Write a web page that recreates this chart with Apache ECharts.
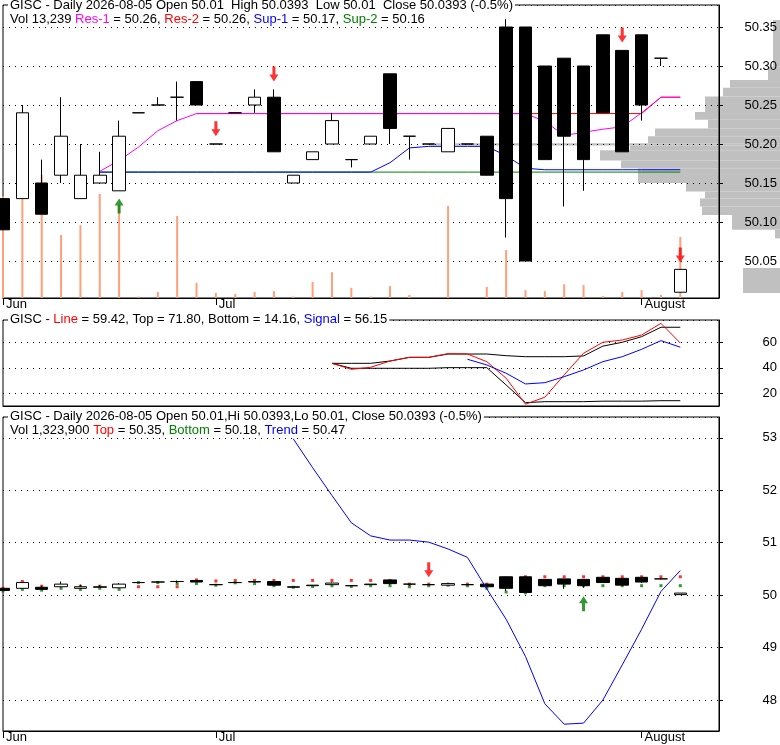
<!DOCTYPE html>
<html>
<head>
<meta charset="utf-8">
<title>GISC - Daily</title>
<script src="https://cdn.jsdelivr.net/npm/echarts@6/dist/echarts.min.js"></script>
<style>
    html, body { margin: 0; padding: 0; background: #fff; }
    #chart { width: 780px; height: 745px; }
</style>
</head>
<body>
<div id="chart"></div>
<script type="text/javascript">
    // daily bars
    var dates = ['2026-06-15','2026-06-16','2026-06-17','2026-06-18','2026-06-22','2026-06-23','2026-06-24','2026-06-25','2026-06-26',
        '2026-06-29','2026-06-30','2026-07-01','2026-07-02','2026-07-06','2026-07-07','2026-07-08','2026-07-09','2026-07-10',
        '2026-07-13','2026-07-14','2026-07-15','2026-07-16','2026-07-17','2026-07-20','2026-07-21','2026-07-22','2026-07-23',
        '2026-07-24','2026-07-27','2026-07-28','2026-07-29','2026-07-30','2026-07-31','2026-08-03','2026-08-04','2026-08-05'];
    var opens  = [50.13,50.13,50.15,50.16,50.13,50.15,50.14,50.24,50.25,50.26,50.28,50.20,50.24,50.25,50.26,50.15,50.18,50.20,
        50.18,50.20,50.29,50.21,50.20,50.19,50.20,50.21,50.35,50.35,50.30,50.31,50.30,50.34,50.32,50.34,50.31,50.01];
    var closes = [50.09,50.24,50.11,50.21,50.16,50.16,50.21,50.24,50.25,50.26,50.25,50.20,50.24,50.26,50.19,50.16,50.19,50.23,
        50.18,50.21,50.22,50.21,50.20,50.22,50.20,50.16,50.13,50.05,50.18,50.21,50.18,50.24,50.19,50.25,50.31,50.0393];
    var lows   = [50.09,50.13,50.11,50.15,50.13,50.15,50.14,50.24,50.25,50.23,50.25,50.20,50.24,50.24,50.19,50.15,50.18,50.20,
        50.17,50.20,50.20,50.18,50.20,50.19,50.20,50.16,50.08,50.05,50.18,50.12,50.14,50.24,50.19,50.23,50.30,50.01];
    var highs  = [50.13,50.25,50.18,50.26,50.20,50.19,50.23,50.24,50.26,50.28,50.28,50.20,50.24,50.27,50.27,50.16,50.19,50.24,
        50.18,50.21,50.29,50.21,50.20,50.22,50.20,50.21,50.36,50.35,50.30,50.31,50.30,50.34,50.32,50.34,50.31,50.0393];
    var volumes = [22100,21700,26700,13700,15800,22600,20200,330,1300,17800,3300,1100,870,1300,1500,330,3500,5600,
        2200,330,2600,650,0,20000,0,2400,10400,1700,1500,3000,2800,430,1300,1700,650,13239];

    // support / resistance
    var res1 = [null,null,null,null,null,50.165,50.179,50.196,50.217,50.23,50.239,50.239,50.239,50.239,50.239,50.239,50.239,50.239,
        50.239,50.239,50.239,50.239,50.239,50.239,50.239,50.239,50.239,50.239,50.229,50.211,50.215,50.219,50.222,50.24,50.26,50.26];
    var res2 = [null,null,null,null,null,null,null,null,null,null,50.239,50.239,50.239,50.239,50.239,50.239,50.239,50.239,
        50.239,50.239,50.239,50.239,50.239,50.239,50.239,50.239,50.239,50.239,50.239,50.239,50.239,50.239,50.239,50.239,50.26,50.26];
    var sup1 = [null,null,null,null,null,50.164,50.164,50.164,50.164,50.164,50.164,50.164,50.164,50.164,50.164,50.164,50.164,50.164,
        50.164,50.164,50.176,50.195,50.197,50.197,50.197,50.197,50.185,50.169,50.167,50.167,50.167,50.167,50.167,50.167,50.167,50.167];
    var sup2 = [null,null,null,null,null,50.164,50.164,50.164,50.164,50.164,50.164,50.164,50.164,50.164,50.164,50.164,50.164,50.164,
        50.164,50.164,50.164,50.164,50.164,50.164,50.164,50.164,50.164,50.164,50.164,50.164,50.164,50.164,50.164,50.164,50.164,50.164];

    // signal arrows, top panel
    var sellIdx = [11, 14, 32, 35];
    var sellPrice = [50.21, 50.28, 50.33, 50.048];
    var buyIdx = [6];
    var buyPrice = [50.13];

    // volume at price (right side)
    var profileLo  = [50.299,50.282,50.272,50.261,50.241,50.231,50.220,50.210,50.201,50.198,50.192,50.179,50.169,50.150,50.139,50.130,50.120,50.109,50.090,50.079,50.009];
    var profileHi  = [50.359,50.299,50.282,50.272,50.261,50.241,50.231,50.220,50.210,50.201,50.198,50.192,50.179,50.169,50.150,50.139,50.130,50.120,50.109,50.090,50.041];
    var profileVol = [7,12,50,57,75,85,72,125,132,350,150,180,159,142,94,75,80,78,48,5,37];

    // middle panel
    var lineVals   = [null,null,null,null,null,null,null,null,null,null,null,null,null,null,null,null,null,43.5,
        38.8,40.4,45.3,48.2,48.2,51.1,50.8,44.8,31.8,11.4,16.9,34.4,51.4,60.0,61.8,65.7,74.9,59.42];
    var topVals    = [null,null,null,null,null,null,null,null,null,null,null,null,null,null,null,null,null,43.5,
        43.5,43.5,45.3,48.2,48.2,50.8,50.8,50.8,49.5,48.7,48.7,48.7,49.3,57.0,60.0,64.4,71.8,71.8];
    var bottomVals = [null,null,null,null,null,null,null,null,null,null,null,null,null,null,null,null,null,43.5,
        39.6,39.6,39.6,39.6,39.6,40.1,40.1,40.1,26.5,12.6,13.4,13.4,13.4,13.8,13.8,13.8,14.16,14.16];
    var signalVals = [null,null,null,null,null,null,null,null,null,null,null,null,null,null,null,null,null,null,
        null,null,null,null,null,null,46.7,42.2,35.7,27.3,28.3,33.0,38.3,44.8,48.7,54.5,61.3,56.15];

    // bottom panel
    var trendVals = [null,null,null,null,null,null,null,null,null,null,null,null,null,null,null,52.98,52.43,51.90,
        51.38,51.13,51.05,51.05,51.01,50.88,50.72,50.12,49.54,48.83,47.93,47.54,47.56,48.00,48.67,49.35,50.07,50.47];
    var topMarks = [50.13,50.26,50.17,null,50.17,50.17,null,50.16,50.16,50.16,50.29,50.27,50.28,50.28,50.28,50.28,50.28,50.28,
        50.28,50.28,50.28,50.21,50.21,50.21,50.21,50.21,50.21,50.35,50.35,50.35,50.35,50.35,50.35,50.35,50.35,50.35];
    var bottomMarks = [50.08,50.11,50.095,50.13,50.11,50.13,50.11,50.24,50.24,50.22,50.22,50.19,50.235,50.22,50.18,50.15,50.165,50.18,
        50.165,50.18,50.18,50.16,50.18,50.19,50.18,50.13,50.06,50.045,50.18,50.18,50.18,50.18,50.18,50.18,50.18,50.18];
    var sellIdx2 = [22];
    var sellPrice2 = [50.343];
    var buyIdx2 = [30];
    var buyPrice2 = [49.98];

    var monthNames = {'06': 'Jun', '07': 'Jul', '08': 'August'};

    var N = dates.length;
    var cats = dates.concat(['', '']);
    var FONT = 'Liberation Sans';
    var FS = 13;

    function monthStart(i) {
        if (i >= N) return false;
        return i === 0 || dates[i].slice(5, 7) !== dates[i - 1].slice(5, 7);
    }
    function pairs(idx, vals) {
        return idx.map(function (k, j) { return [k, vals[j]]; });
    }
    var ohlc = dates.map(function (d, i) { return [opens[i], closes[i], lows[i], highs[i]]; });
    var profile = profileVol.map(function (v, i) { return [profileLo[i], profileHi[i], v]; });

    var DOWN = 'path://M3,0L6,0L6,8L9,8L4.5,15L0,8L3,8Z';
    var UP = 'path://M4.5,0L9,7L6,7L6,15L3,15L3,7L0,7Z';

    function catAxis(gridIndex, labels) {
        return {
            type: 'category', gridIndex: gridIndex, data: cats, boundaryGap: false,
            axisLine: { show: true, lineStyle: { color: '#000' } },
            axisTick: { show: labels, length: 7, interval: function (i) { return monthStart(i); }, lineStyle: { color: '#000' } },
            axisLabel: {
                show: labels, interval: function (i) { return monthStart(i); },
                formatter: function (v) { return monthNames[v.slice(5, 7)] || ''; },
                align: 'left', margin: 0, padding: [0, 0, 0, 3],
                color: '#000', fontFamily: FONT, fontSize: FS
            },
            splitLine: { show: false }
        };
    }
    function valAxis(gridIndex, min, max, split, step, fmt) {
        return {
            type: 'value', gridIndex: gridIndex, position: 'right', min: min, max: max,
            splitNumber: split, minInterval: step, maxInterval: step,
            axisLine: { show: true, lineStyle: { color: '#000' } },
            axisTick: { show: true, length: 4, lineStyle: { color: '#000' } },
            axisLabel: {
                showMinLabel: false, showMaxLabel: false, align: 'right', margin: 58,
                color: '#000', fontFamily: FONT, fontSize: FS, formatter: fmt
            },
            splitLine: { show: true, lineStyle: { color: '#000', width: 1, type: [1, 5] } }
        };
    }
    function line(xi, yi, data, color, z) {
        return {
            type: 'line', xAxisIndex: xi, yAxisIndex: yi, data: data, showSymbol: false, symbol: 'none',
            lineStyle: { color: color, width: 1 }, itemStyle: { color: color }, z: z, silent: true
        };
    }
    function candles(xi, yi) {
        return {
            type: 'candlestick', xAxisIndex: xi, yAxisIndex: yi, data: ohlc, barWidth: 13, clip: false, z: 3,
            itemStyle: { color: '#fff', color0: '#000', borderColor: '#000', borderColor0: '#000', borderColorDoji: '#000', borderWidth: 1 }
        };
    }
    function arrows(xi, yi, data, up, color) {
        return {
            type: 'scatter', xAxisIndex: xi, yAxisIndex: yi, data: data, symbol: up ? UP : DOWN,
            symbolSize: [9, 15], symbolOffset: [0, up ? 7.5 : -7.5], itemStyle: { color: color }, z: 5
        };
    }
    function title(text, left, top, bg) {
        var base = { fontFamily: FONT, fontSize: FS, fontWeight: 'normal', color: '#000' };
        return {
            text: text, left: left, top: top, padding: [0, 2], backgroundColor: bg ? '#fff' : 'transparent',
            textStyle: Object.assign({}, base, {
                rich: {
                    m: Object.assign({}, base, { color: '#ff00ff' }),
                    r: Object.assign({}, base, { color: '#ff0000' }),
                    b: Object.assign({}, base, { color: '#0000ff' }),
                    g: Object.assign({}, base, { color: '#008000' })
                }
            })
        };
    }

    var myChart = echarts.init(document.getElementById('chart'));
    myChart.setOption({
        animation: false,
        backgroundColor: '#fff',
        textStyle: { fontFamily: FONT },
        title: [
            title('GISC - Daily 2026-08-05 Open 50.01  High 50.0393  Low 50.01  Close 50.0393 (-0.5%)', 8, -1, true),
            title('Vol 13,239 {m|Res-1} = 50.26, {r|Res-2} = 50.26, {b|Sup-1} = 50.17, {g|Sup-2} = 50.16', 8, 13, false),
            title('GISC - {r|Line} = 59.42, Top = 71.80, Bottom = 14.16, {b|Signal} = 56.15', 8, 313, true),
            title('GISC - Daily 2026-08-05 Open 50.01,Hi 50.0393,Lo 50.01, Close 50.0393 (-0.5%)', 8, 410, true),
            title('Vol 1,323,900 {r|Top} = 50.35, {g|Bottom} = 50.18, {b|Trend} = 50.47', 8, 424, false)
        ],
        grid: [
            { left: 3, right: 61, top: 5, height: 293, show: true, borderColor: '#000', borderWidth: 1 },
            { left: 400, right: 0, top: 5, height: 293, show: false },
            { left: 3, right: 61, top: 320, height: 86, show: true, borderColor: '#000', borderWidth: 1 },
            { left: 3, right: 61, top: 417, height: 314, show: true, borderColor: '#000', borderWidth: 1 }
        ],
        xAxis: [
            catAxis(0, true),
            { type: 'value', gridIndex: 1, inverse: true, min: 0, max: 380, show: false },
            catAxis(2, false),
            catAxis(3, true)
        ],
        yAxis: [
            valAxis(0, 50.0026, 50.3782, 7, 0.05, function (v) { return v.toFixed(2); }),
            { type: 'value', gridIndex: 0, min: 0, max: 63600, show: false },
            { type: 'value', gridIndex: 1, min: 50.0026, max: 50.3782, show: false },
            valAxis(2, 10, 77.5, 3, 20, function (v) { return String(v); }),
            valAxis(3, 47.41, 53.396, 5, 1, function (v) { return String(v); })
        ],
        series: [
            {
                type: 'custom', xAxisIndex: 1, yAxisIndex: 2, data: profile, z: -1, silent: true,
                encode: { x: 2, y: [0, 1] },
                renderItem: function (params, api) {
                    var a = api.coord([api.value(2), api.value(1)]);
                    var b = api.coord([0, api.value(0)]);
                    return {
                        type: 'rect',
                        shape: { x: a[0], y: a[1], width: b[0] - a[0], height: b[1] - a[1] },
                        style: { fill: '#c0c0c0' }
                    };
                }
            },
            { type: 'bar', xAxisIndex: 0, yAxisIndex: 1, data: volumes, barWidth: 2, itemStyle: { color: '#ffa07a' }, z: 1, silent: true },
            line(0, 0, sup2, '#008000', 2),
            line(0, 0, sup1, '#0000ff', 2),
            line(0, 0, res2, '#ff0000', 2),
            line(0, 0, res1, '#ff00ff', 2),
            candles(0, 0),
            arrows(0, 0, pairs(sellIdx, sellPrice), false, '#ff0000'),
            arrows(0, 0, pairs(buyIdx, buyPrice), true, '#008000'),

            line(2, 3, topVals, '#000', 2),
            line(2, 3, bottomVals, '#000', 2),
            line(2, 3, lineVals, '#ff0000', 3),
            line(2, 3, signalVals, '#0000ff', 4),

            { type: 'scatter', xAxisIndex: 3, yAxisIndex: 4, data: topMarks, symbol: 'rect', symbolSize: 3, itemStyle: { color: '#ff0000' }, z: 2 },
            { type: 'scatter', xAxisIndex: 3, yAxisIndex: 4, data: bottomMarks, symbol: 'rect', symbolSize: 3, itemStyle: { color: '#008000' }, z: 2 },
            candles(3, 4),
            line(3, 4, trendVals, '#0000ff', 4),
            arrows(3, 4, pairs(sellIdx2, sellPrice2), false, '#ff0000'),
            arrows(3, 4, pairs(buyIdx2, buyPrice2), true, '#008000')
        ]
    });
</script>
</body>
</html>
